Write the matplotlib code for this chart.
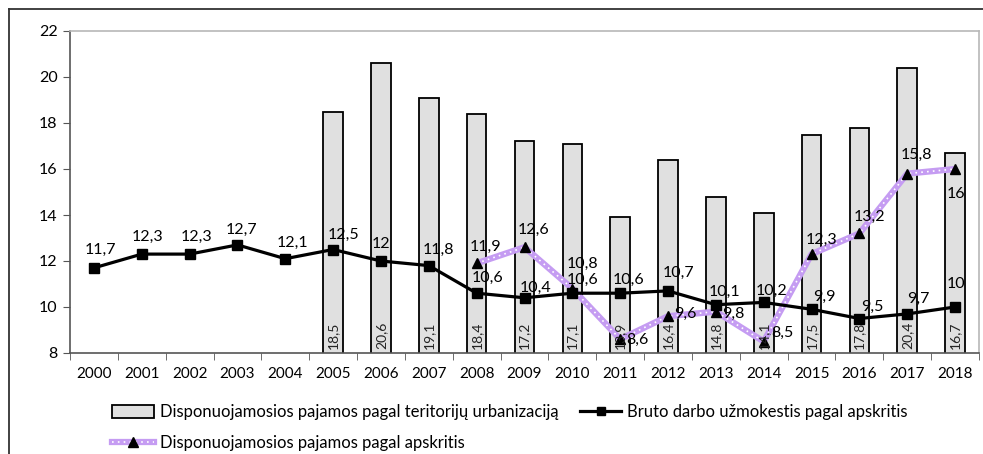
import numpy as np
import matplotlib
matplotlib.use("Agg")
import matplotlib.pyplot as plt
from matplotlib.lines import Line2D
from matplotlib.patches import Patch
import matplotlib.ticker as mticker

plt.rcParams['font.family'] = ['Lato', 'DejaVu Sans']

years = [str(y) for y in range(2000, 2019)]
nan = np.nan
bars_urban = [nan, nan, nan, nan, nan, 18.5, 20.6, 19.1, 18.4, 17.2, 17.1,
              13.9, 16.4, 14.8, 14.1, 17.5, 17.8, 20.4, 16.7]
wage_county = [11.7, 12.3, 12.3, 12.7, 12.1, 12.5, 12, 11.8, 10.6, 10.4, 10.6,
               10.6, 10.7, 10.1, 10.2, 9.9, 9.5, 9.7, 10]
income_county = [nan, nan, nan, nan, nan, nan, nan, nan, 11.9, 12.6, 10.8,
                 8.6, 9.6, 9.8, 8.5, 12.3, 13.2, 15.8, 16]

lbl_bars = "Disponuojamosios pajamos pagal teritorijų urbanizaciją"
lbl_wage = "Bruto darbo užmokestis pagal apskritis"
lbl_income = "Disponuojamosios pajamos pagal apskritis"

# label offsets in pixels (dx, dy up)
wage_off = [(7, 18), (6, 17), (7, 17), (4, 15), (7, 16), (10, 15), (0, 17), (10, 16),
            (11, 15), (11, 10), (10, 13), (8, 13), (10, 18), (9, 13), (8, 12),
            (13, 12), (13, 12), (11, 15), (1, 23)]
income_off = [None] * 8 + [(9, 16), (9, 17), (10, 25), (17, -1), (17, 2), (17, -2),
                           (19, 9), (10, 14), (10, 17), (9, 19), (1, -25)]


def fmt(v):
    return f"{v:g}".replace('.', ',')


W, H = 983, 454
fig = plt.figure(figsize=(W / 100, H / 100), dpi=100)
ax = fig.add_axes([70 / W, 1 - 353 / H, (979 - 70) / W, (353 - 31) / H])

x = np.arange(len(years))
ax.bar(x, bars_urban, width=0.41, color='#e0e0e0', edgecolor='black',
       linewidth=1.3, zorder=2)
for xi, v in zip(x, bars_urban):
    if not np.isnan(v):
        ax.annotate(fmt(v), (xi, 8), xytext=(0, 4), textcoords='offset pixels',
                    rotation=90, ha='center', va='bottom', fontsize=10,
                    color='#222222', zorder=5)

ax.plot(x, wage_county, color='black', lw=2.3, marker='s', markersize=7,
        zorder=4)
ax.plot(x, income_county, color='#c59cf2', lw=4.5, zorder=3,
        solid_capstyle='butt')
ax.plot(x, income_county, color='white', lw=1.2, ls=(0, (1, 2.5)), zorder=3.5)
ax.plot(x, income_county, ls='none', marker='^', color='black', markersize=7,
        zorder=4.5)

for xi, v, off in zip(x, wage_county, wage_off):
    ax.annotate(fmt(v), (xi, v), xytext=off, textcoords='offset pixels',
                ha='center', va='center', fontsize=11.5, zorder=6)
for xi, v, off in zip(x, income_county, income_off):
    if off is not None and not np.isnan(v):
        ax.annotate(fmt(v), (xi, v), xytext=off, textcoords='offset pixels',
                    ha='center', va='center', fontsize=11.5, zorder=6)

ax.set_xlim(-0.5, len(years) - 0.5)
ax.set_ylim(8, 22)
ax.yaxis.set_major_locator(mticker.MultipleLocator(2))
ax.set_xticks(x)
ax.set_xticklabels(years, fontsize=11)
ax.tick_params(axis='x', length=0, pad=10)
ax.set_xticks(np.arange(-0.5, len(years)), minor=True)
ax.tick_params(axis='x', which='minor', length=5, color='#555555', direction='out')
ax.tick_params(axis='y', length=5, color='#555555', labelsize=11.5, pad=4)
for s in ['left', 'bottom']:
    ax.spines[s].set_color('#555555')
    ax.spines[s].set_linewidth(1.2)
for s in ['top', 'right']:
    ax.spines[s].set_color('#b8b8b8')
    ax.spines[s].set_linewidth(1.2)

handles = [
    Patch(facecolor='#e0e0e0', edgecolor='black', linewidth=1.3),
    (Line2D([], [], color='#c59cf2', lw=4.5),
     Line2D([], [], color='white', lw=1.2, ls=(0, (1, 2.5))),
     Line2D([], [], ls='none', marker='^', color='black', markersize=7)),
    Line2D([], [], color='black', lw=2.3, marker='s', markersize=6),
]
labels = [lbl_bars, lbl_income, lbl_wage]
leg = fig.legend(handles, labels, ncol=2, loc='upper left',
                 bbox_to_anchor=(112 / W, 1 - 404 / H), frameon=False,
                 fontsize=12, handlelength=2.5, handleheight=0.8,
                 handletextpad=0.35, columnspacing=1.3, labelspacing=0.92,
                 borderaxespad=0, borderpad=0)

# outer chart frame (cut by image edges)
fig.add_artist(Line2D([9 / W, 9 / W], [0, 1 - 9 / H], transform=fig.transFigure,
                      color='#333333', lw=1.3))
fig.add_artist(Line2D([9 / W, 1], [1 - 9 / H, 1 - 9 / H], transform=fig.transFigure,
                      color='#333333', lw=1.3))

fig.savefig("out.png", dpi=100)
